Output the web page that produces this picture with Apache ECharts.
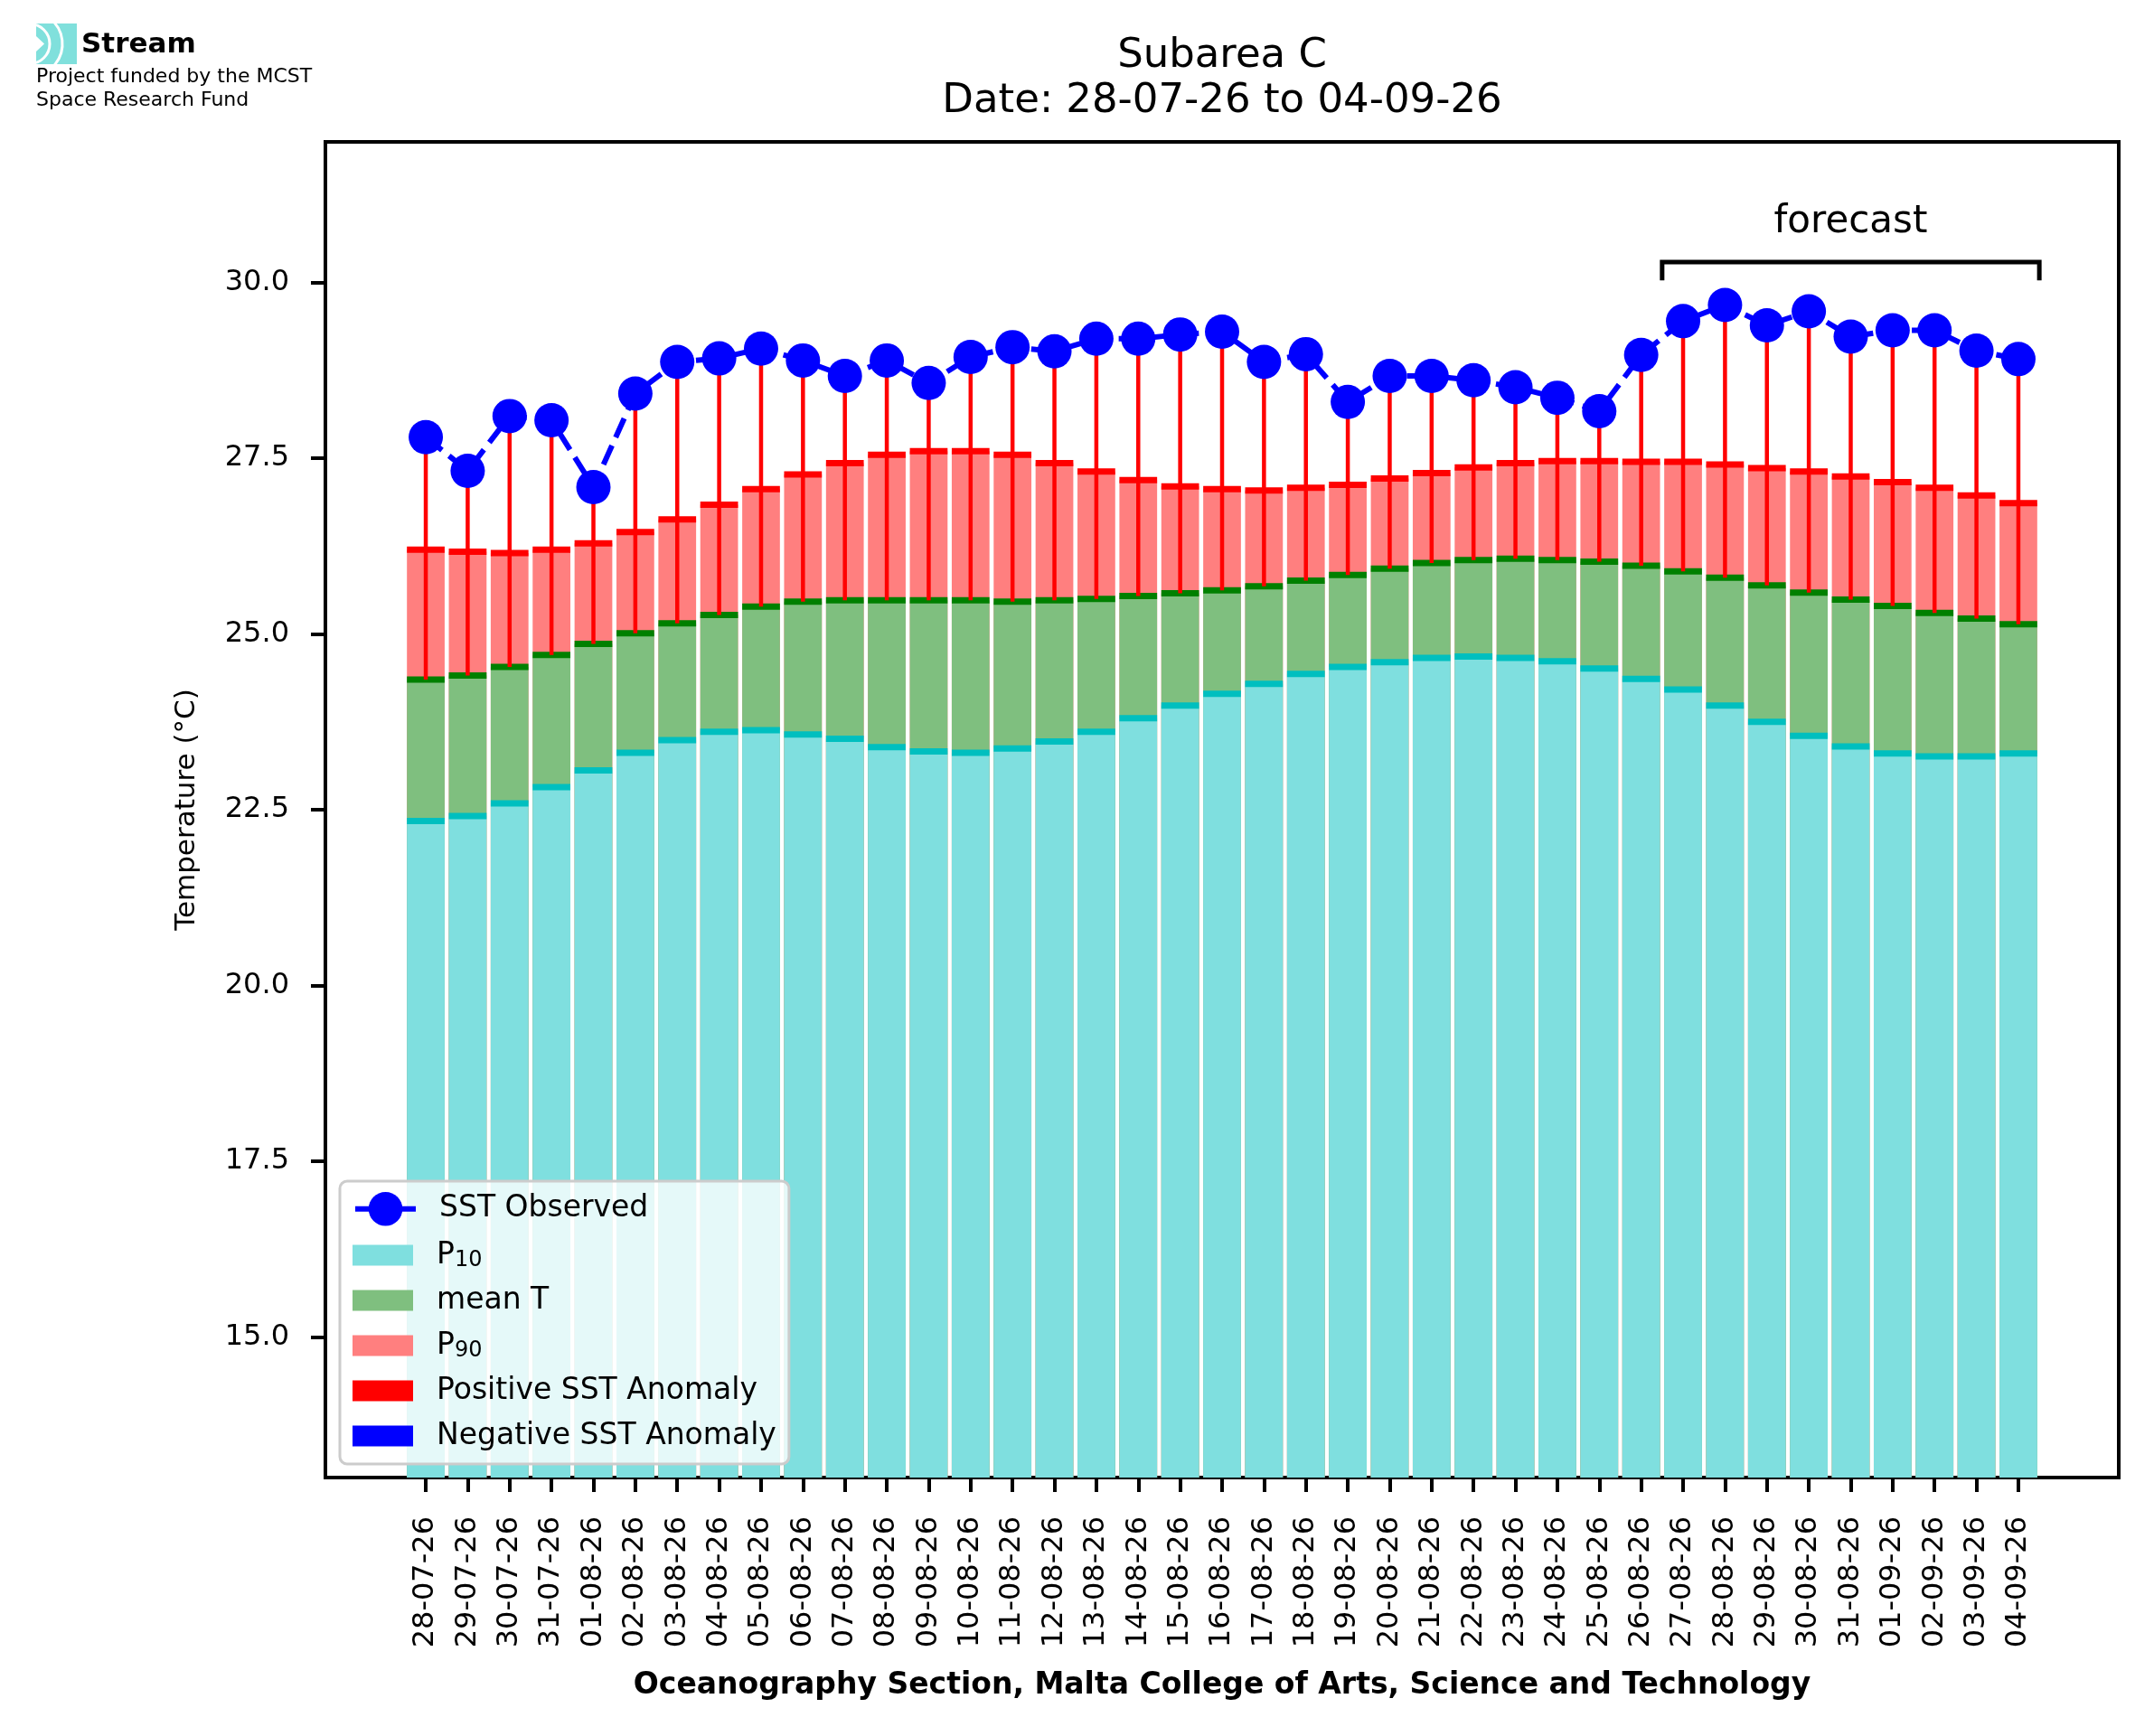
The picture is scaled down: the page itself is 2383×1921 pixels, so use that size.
<!DOCTYPE html>
<html lang="en">
<head>
  <meta charset="UTF-8">
  <title>Subarea C</title>
  <script src="https://cdn.jsdelivr.net/npm/echarts@6/dist/echarts.min.js"></script>
  <style>
    * {
      margin: 0;
      padding: 0
    }

    html, body {
      width: 100%;
      height: 100%;
      background: #fff;
    }

    #main {
      width: 2383px;
      height: 1921px;
    }
  </style>
</head>
<body>
  <div id="main"></div>
</body>
<script type="text/javascript">
  /*-------------------- data --------------------*/
  var dates = ['28-07-26', '29-07-26', '30-07-26', '31-07-26', '01-08-26', '02-08-26', '03-08-26',
    '04-08-26', '05-08-26', '06-08-26', '07-08-26', '08-08-26', '09-08-26', '10-08-26', '11-08-26',
    '12-08-26', '13-08-26', '14-08-26', '15-08-26', '16-08-26', '17-08-26', '18-08-26', '19-08-26',
    '20-08-26', '21-08-26', '22-08-26', '23-08-26', '24-08-26', '25-08-26', '26-08-26', '27-08-26',
    '28-08-26', '29-08-26', '30-08-26', '31-08-26', '01-09-26', '02-09-26', '03-09-26', '04-09-26'];

  var sstObserved = [27.80, 27.32, 28.10, 28.04, 27.09, 28.42, 28.87, 28.92, 29.06, 28.89, 28.67, 28.89, 28.57,
    28.94, 29.08, 29.02, 29.20, 29.20, 29.26, 29.30, 28.87, 28.98, 28.30, 28.67, 28.67, 28.61, 28.51,
    28.36, 28.17, 28.97, 29.45, 29.68, 29.39, 29.59, 29.23, 29.32, 29.32, 29.03, 28.91];

  var p10 = [22.34, 22.41, 22.59, 22.82, 23.06, 23.31, 23.49, 23.61, 23.63, 23.57, 23.51, 23.39, 23.33,
    23.31, 23.37, 23.47, 23.61, 23.80, 23.98, 24.15, 24.29, 24.43, 24.53, 24.60, 24.66, 24.68, 24.66,
    24.61, 24.51, 24.36, 24.21, 23.98, 23.75, 23.55, 23.40, 23.30, 23.26, 23.26, 23.30];

  var meanT = [24.35, 24.41, 24.53, 24.70, 24.86, 25.01, 25.15, 25.27, 25.39, 25.46, 25.48, 25.48, 25.48,
    25.48, 25.46, 25.48, 25.50, 25.54, 25.58, 25.62, 25.68, 25.76, 25.84, 25.93, 26.01, 26.05, 26.07,
    26.05, 26.03, 25.97, 25.89, 25.80, 25.69, 25.59, 25.49, 25.40, 25.30, 25.22, 25.14];

  var p90 = [26.20, 26.17, 26.15, 26.20, 26.29, 26.45, 26.63, 26.84, 27.06, 27.27, 27.43, 27.55, 27.60,
    27.60, 27.55, 27.43, 27.31, 27.19, 27.10, 27.06, 27.04, 27.08, 27.12, 27.21, 27.29, 27.37, 27.43,
    27.46, 27.46, 27.45, 27.45, 27.41, 27.36, 27.31, 27.24, 27.16, 27.08, 26.97, 26.86];

  var forecastFrom = 30;   // index of 27-08-26, first forecast day
  var yTicks = [15, 17.5, 20, 22.5, 25, 27.5, 30];

  /*-------------------- derived tables --------------------*/
  var idx = dates.map(function (d, i) { return i; });
  var font = '"DejaVu Sans"';

  function pairs(arr) {
    return idx.map(function (i) { return [i, arr[i]]; });
  }

  var edges = idx.map(function (i) { return [i, p10[i], meanT[i], p90[i]]; });
  var posAnom = idx.filter(function (i) { return sstObserved[i] >= meanT[i]; })
    .map(function (i) { return [i, meanT[i], sstObserved[i]]; });
  var negAnom = idx.filter(function (i) { return sstObserved[i] < meanT[i]; })
    .map(function (i) { return [i, meanT[i], sstObserved[i]]; });

  // thick coloured line on top of each bar
  function renderEdges(params, api) {
    var i = api.value(0);
    var w = api.size([0.9, 0])[0];
    var cols = ['#00bfbf', '#008000', '#ff0000'];
    var children = [];
    for (var k = 0; k < 3; k++) {
      var p = api.coord([i, api.value(k + 1)]);
      children.push({
        type: 'rect',
        shape: {x: p[0] - w / 2, y: p[1] - 3.5, width: w, height: 7},
        style: {fill: cols[k]}
      });
    }
    return {type: 'group', children: children};
  }

  function anomalyRenderer(color) {
    return function (params, api) {
      var a = api.coord([api.value(0), api.value(1)]);
      var b = api.coord([api.value(0), api.value(2)]);
      return {
        type: 'line',
        shape: {x1: a[0], y1: a[1], x2: b[0], y2: b[1]},
        style: {stroke: color, lineWidth: 4.5}
      };
    };
  }

  function renderForecast(params, api) {
    var x0 = api.value(0), x1 = api.value(1);
    var pts = [
      api.coord([x0, 30.03]), api.coord([x0, 30.29]),
      api.coord([x1, 30.29]), api.coord([x1, 30.03])
    ];
    var mid = api.coord([(x0 + x1) / 2, 30.85]);
    return {
      type: 'group',
      children: [
        {type: 'polyline', shape: {points: pts}, style: {stroke: '#000', lineWidth: 5, fill: null}},
        {
          type: 'text', x: mid[0], y: mid[1],
          style: {text: 'forecast', fill: '#000', font: '42px ' + font, align: 'center', verticalAlign: 'middle'}
        }
      ]
    };
  }

  var legendText = {
    fontSize: 33, fontFamily: font, color: '#000', lineHeight: 36, padding: [0, 0, 0, 21],
    rich: {
      sub: {fontSize: 24, fontFamily: font, color: '#000', lineHeight: 20, verticalAlign: 'bottom'}
    }
  };
  var subNames = {'P10': 'P{sub|10}', 'P90': 'P{sub|90}'};

  var chart = echarts.init(document.getElementById('main'));
  chart.setOption({
    animation: false,
    backgroundColor: '#fff',
    title: {
      text: 'Subarea C\nDate: 28-07-26 to 04-09-26',
      left: 1352,
      top: 37,
      padding: 0,
      textAlign: 'center',
      textStyle: {fontSize: 45, fontWeight: 'normal', fontFamily: font, color: '#000', lineHeight: 50}
    },
    graphic: [
      {type: 'rect', shape: {x: 40, y: 26, width: 45, height: 45}, style: {fill: '#80e0dc'}},
      {type: 'polygon', shape: {points: [[40, 40], [49, 48.5], [40, 57]]}, style: {fill: '#fff'}},
      {type: 'arc', shape: {cx: 33, cy: 48.5, r: 22, startAngle: -Math.PI / 2, endAngle: Math.PI / 2},
        style: {stroke: '#fff', lineWidth: 3, fill: null}},
      {type: 'arc', shape: {cx: 33, cy: 48.5, r: 36, startAngle: -0.9, endAngle: 0.9},
        style: {stroke: '#fff', lineWidth: 3, fill: null}},
      {type: 'text', x: 90, y: 34, style: {text: 'Stream', font: 'bold 31px ' + font, fill: '#000'}},
      {type: 'text', x: 40, y: 74, style: {text: 'Project funded by the MCST', font: '22px ' + font, fill: '#000'}},
      {type: 'text', x: 40, y: 100, style: {text: 'Space Research Fund', font: '22px ' + font, fill: '#000'}}
    ],
    legend: [
      {
        data: ['SST Observed'],
        orient: 'vertical',
        left: 390,
        top: 1319,
        padding: 0,
        itemWidth: 67,
        itemHeight: 47,
        selectedMode: false,
        lineStyle: {type: 'solid', width: 6},
        textStyle: legendText,
        z: 10
      },
      {
        data: ['P10', 'mean T', 'P90', 'Positive SST Anomaly', 'Negative SST Anomaly'],
        orient: 'vertical',
        left: 376,
        top: 1307,
        padding: [64, 14, 13, 14],
        itemWidth: 67,
        itemHeight: 23,
        itemGap: 14,
        icon: 'rect',
        selectedMode: false,
        backgroundColor: 'rgba(255,255,255,0.8)',
        borderColor: '#cccccc',
        borderWidth: 3,
        borderRadius: 8,
        textStyle: legendText,
        formatter: function (name) { return subNames[name] || name; },
        z: 9
      }
    ],
    grid: {
      left: 360,
      right: 39,
      top: 157,
      bottom: 286,
      show: true,
      borderColor: '#000',
      borderWidth: 4,
      backgroundColor: 'transparent'
    },
    xAxis: {
      type: 'value',
      min: -2.395,
      max: 40.395,
      name: 'Oceanography Section, Malta College of Arts, Science and Technology',
      nameLocation: 'middle',
      nameGap: 214,
      nameTextStyle: {fontSize: 33, fontWeight: 'bold', fontFamily: font, color: '#000'},
      axisLine: {onZero: false, lineStyle: {color: '#000', width: 4}},
      axisTick: {customValues: idx, length: 16, lineStyle: {color: '#000', width: 4}},
      axisLabel: {
        customValues: idx,
        rotate: 90,
        margin: 43,
        fontSize: 32,
        fontFamily: font,
        color: '#000',
        formatter: function (v) { return dates[v]; }
      },
      splitLine: {show: false}
    },
    yAxis: {
      type: 'value',
      min: 13,
      max: 32,
      name: 'Temperature (°C)',
      nameLocation: 'middle',
      nameGap: 138,
      nameTextStyle: {fontSize: 31, fontFamily: font, color: '#000'},
      axisLine: {onZero: false, lineStyle: {color: '#000', width: 4}},
      axisTick: {customValues: yTicks, length: 16, lineStyle: {color: '#000', width: 4}},
      axisLabel: {
        customValues: yTicks,
        margin: 40,
        fontSize: 32,
        fontFamily: font,
        color: '#000',
        formatter: function (v) { return v.toFixed(1); }
      },
      splitLine: {show: false}
    },
    series: [
      // overlapping bars, drawn tallest first
      {name: 'P90', type: 'bar', barWidth: '90%', barGap: '-100%', data: pairs(p90), itemStyle: {color: '#ff7f7f'}, z: 2},
      {name: 'mean T', type: 'bar', barWidth: '90%', barGap: '-100%', data: pairs(meanT), itemStyle: {color: '#7fbf7f'}, z: 2},
      {name: 'P10', type: 'bar', barWidth: '90%', barGap: '-100%', data: pairs(p10), itemStyle: {color: '#7fdfdf'}, z: 2},
      {name: 'edges', type: 'custom', data: edges, renderItem: renderEdges, z: 3, silent: true},
      {
        name: 'Positive SST Anomaly', type: 'custom', data: posAnom,
        renderItem: anomalyRenderer('#ff0000'), itemStyle: {color: '#ff0000'}, z: 4
      },
      {
        name: 'Negative SST Anomaly', type: 'custom', data: negAnom,
        renderItem: anomalyRenderer('#0000ff'), itemStyle: {color: '#0000ff'}, z: 4
      },
      {
        name: 'SST Observed', type: 'line', data: pairs(sstObserved),
        symbol: 'circle', symbolSize: 38,
        itemStyle: {color: '#0000ff'},
        lineStyle: {color: '#0000ff', width: 6, type: [23, 10]},
        z: 5
      },
      {
        name: 'forecast', type: 'custom', silent: true, z: 6,
        data: [[forecastFrom - 0.5, dates.length - 0.5]],
        renderItem: renderForecast
      }
    ]
  });
</script>
</html>
